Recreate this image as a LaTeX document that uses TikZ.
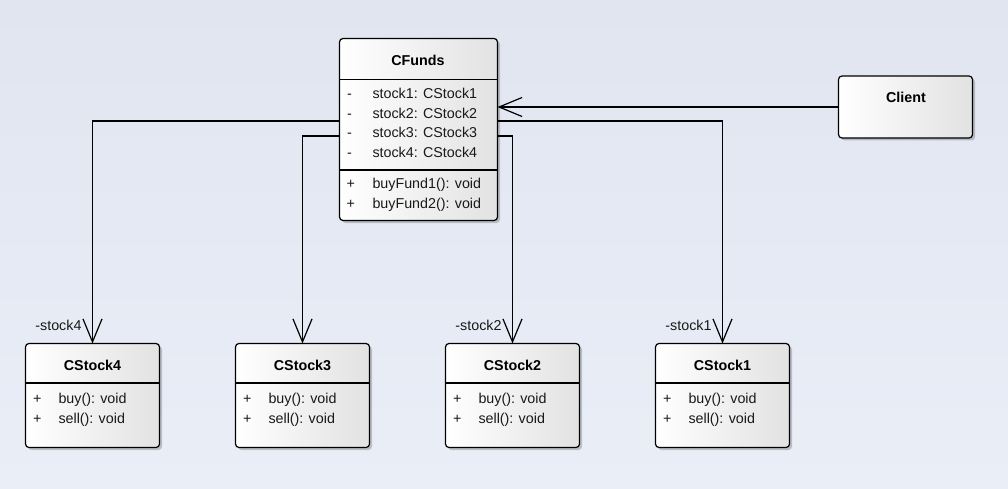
\documentclass[tikz,border=0pt]{standalone}
\usepackage{fontspec}
\setmainfont{Liberation Sans}
\usetikzlibrary{positioning,arrows.meta,shadows}

\definecolor{bgtop}{RGB}{224,229,240}
\definecolor{bgbot}{RGB}{234,238,247}
\definecolor{boxgray}{RGB}{226,226,226}

\begin{document}
\begin{tikzpicture}[x=1pt,y=-1pt,
  every node/.style={font=\fontsize{14.3}{17}\selectfont,inner sep=0pt,outer sep=0pt},
  cls/.style={draw,line width=1.2pt,rounded corners=3.5pt,
    left color=white,right color=boxgray,
    drop shadow={shadow xshift=2.5pt,shadow yshift=-2.5pt,opacity=0.2,fill=black}},
  ttl/.style={anchor=base,font=\fontsize{14.3}{17}\selectfont\bfseries},
  mbr/.style={anchor=base west,text=black!90},
  lbl/.style={anchor=base east,text=black!90},
  sep/.style={line width=1.2pt},
  assoc/.style={line width=1.2pt,-{Straight Barb[length=23pt,width=19pt]}}]
  \useasboundingbox (0,0) rectangle (1008,489);
  \shade[top color=bgtop,bottom color=bgbot] (0,0) rectangle (1008,489);

  \node[cls,minimum width=158pt,minimum height=182pt] (funds) at (418.5,129.5) {};
  \draw[sep] (funds.west |- 0,79.5) -- (funds.east |- 0,79.5);
  \draw[sep] (funds.west |- 0,170) -- (funds.east |- 0,170);
  \node[ttl] (funds-t) at (418,65.5) {CFunds};
  \node[mbr] (funds-m1) at (347,99) {-};
  \node[mbr] (funds-a1) at (372.5,99) {stock1: CStock1};
  \node[mbr] (funds-m2) at (347,118.5) {-};
  \node[mbr] (funds-a2) at (372.5,118.5) {stock2: CStock2};
  \node[mbr] (funds-m3) at (347,138) {-};
  \node[mbr] (funds-a3) at (372.5,138) {stock3: CStock3};
  \node[mbr] (funds-m4) at (347,157.5) {-};
  \node[mbr] (funds-a4) at (372.5,157.5) {stock4: CStock4};
  \node[mbr] (funds-p1) at (346.5,189) {+};
  \node[mbr] (funds-o1) at (372.5,189) {buyFund1(): void};
  \node[mbr] (funds-p2) at (346.5,208.5) {+};
  \node[mbr] (funds-o2) at (372.5,208.5) {buyFund2(): void};

  \node[cls,minimum width=134pt,minimum height=62pt] (client) at (905.5,107) {};
  \node[ttl] (client-t) at (906,102.7) {Client};

  \foreach \n/\x in {4/92.5,3/302.5,2/512.5,1/722.5} {
    \node[cls,minimum width=134pt,minimum height=104pt] (cs\n) at (\x,395.5) {};
    \draw[sep] (cs\n.west |- 0,383) -- (cs\n.east |- 0,383);
    \node[ttl] (cs\n-t) at (\x,370) {CStock\n};
    \node[mbr] (cs\n-p1) at (\x-59.5,403) {+};
    \node[mbr] (cs\n-o1) at (\x-34,403) {buy(): void};
    \node[mbr] (cs\n-p2) at (\x-59.5,423) {+};
    \node[mbr] (cs\n-o2) at (\x-34,423) {sell(): void};
  }

  \draw[assoc] (client.west) -- (client.west -| funds.east);
  \draw[assoc] (funds.west |- 0,121) -| (cs4.north);
  \draw[assoc] (funds.west |- 0,136) -| (cs3.north);
  \draw[assoc] (funds.east |- 0,136) -| (cs2.north);
  \draw[assoc] (funds.east |- 0,121) -| (cs1.north);

  \node[lbl] (l4) at ([xshift=-11pt,yshift=13pt]cs4.north) {-stock4};
  \node[lbl] (l2) at ([xshift=-11pt,yshift=13pt]cs2.north) {-stock2};
  \node[lbl] (l1) at ([xshift=-11pt,yshift=13pt]cs1.north) {-stock1};
\end{tikzpicture}
\end{document}
